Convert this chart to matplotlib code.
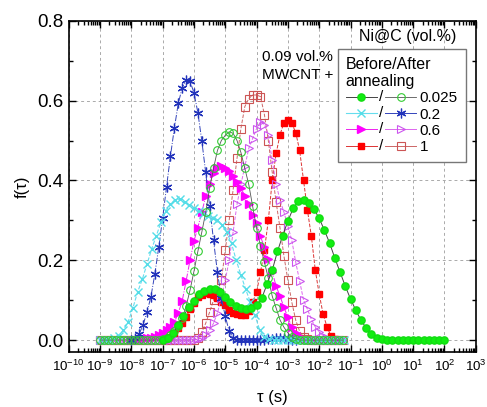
import matplotlib
matplotlib.use('Agg')
import numpy as np
import matplotlib.pyplot as plt
from matplotlib.lines import Line2D
from matplotlib.text import Text
from matplotlib.legend_handler import HandlerBase
from matplotlib.ticker import LogLocator, MultipleLocator, FormatStrFormatter, NullFormatter

plt.rcParams['font.family'] = ['Liberation Sans', 'DejaVu Sans']
plt.rcParams['mathtext.fontset'] = 'custom'
plt.rcParams['mathtext.rm'] = 'Liberation Sans'
plt.rcParams['mathtext.it'] = 'Liberation Sans:italic'

# ---------------- data (log10 tau grid start, step; f(tau) values) ----------------
labels = ['0.025', '0.2', '0.6', '1']

# 0.025 before (filled circles)
g_before_start, g_before_step = -7.0, 1 / 6
g_before = [0.0, 0.005, 0.017, 0.038, 0.06, 0.083, 0.098, 0.115, 0.123, 0.128, 0.127, 0.12,
            0.108, 0.095, 0.085, 0.08, 0.078, 0.08, 0.088, 0.105, 0.14, 0.175, 0.222, 0.262,
            0.298, 0.33, 0.348, 0.352, 0.343, 0.328, 0.305, 0.275, 0.243, 0.205, 0.17, 0.135,
            0.103, 0.075, 0.05, 0.03, 0.016, 0.006, 0.002,
            0.0, 0.0, 0.0, 0.0, 0.0, 0.0, 0.0, 0.0, 0.0, 0.0, 0.0, 0.0]
# 0.025 after (open circles)
g_after_start, g_after_step = -9.0, 1 / 8
g_after = [0.0, 0.0, 0.0, 0.0, 0.0, 0.0, 0.0, 0.0, 0.0, 0.0, 0.0, 0.0, 0.0, 0.0, 0.0, 0.0,
           0.002, 0.006, 0.012, 0.022, 0.036, 0.055, 0.085, 0.125, 0.172, 0.222, 0.27, 0.32,
           0.38, 0.43, 0.475, 0.50, 0.513, 0.522, 0.518, 0.50, 0.47, 0.43, 0.39, 0.335, 0.28,
           0.235, 0.195, 0.155, 0.11, 0.08, 0.05, 0.032, 0.018, 0.008, 0.003,
           0.0, 0.0, 0.0, 0.0, 0.0, 0.0, 0.0, 0.0, 0.0, 0.0, 0.0, 0.0]
# 0.2 before (x)
c_before_start, c_before_step = -9.0, 0.15
c_before = [0.0, 0.0, 0.001, 0.004, 0.011, 0.025, 0.046, 0.08, 0.12, 0.152, 0.19, 0.228, 0.262,
            0.295, 0.323, 0.34, 0.352, 0.353, 0.347, 0.338, 0.33, 0.323, 0.316, 0.31, 0.305,
            0.3, 0.288, 0.27, 0.242, 0.2, 0.163, 0.128, 0.095, 0.062, 0.025, 0.008, 0.002,
            0.0, 0.0, 0.0, 0.0, 0.0, 0.0, 0.0, 0.0, 0.0, 0.0, 0.0, 0.0, 0.0, 0.0, 0.0, 0.0]
# 0.2 after (asterisk)
b_after_start, b_after_step = -8.0, 1 / 8
b_after = [0.0, 0.004, 0.015, 0.038, 0.07, 0.108, 0.165, 0.232, 0.305, 0.384, 0.461, 0.531,
           0.593, 0.632, 0.652, 0.648, 0.62, 0.57, 0.50, 0.42, 0.336, 0.25, 0.17, 0.105, 0.06,
           0.022, 0.006, 0.001,
           0.0, 0.0, 0.0, 0.0, 0.0, 0.0, 0.001, 0.002, 0.003, 0.004, 0.005, 0.004, 0.002, 0.001, 0.0]
# 0.6 before (filled triangles)
m_before_start, m_before_step = -8.0, 1 / 8
m_before = [0.0, 0.001, 0.002, 0.003, 0.004, 0.006, 0.008, 0.012, 0.018, 0.025, 0.034, 0.045,
            0.068, 0.098, 0.148, 0.2, 0.248, 0.282, 0.32, 0.36, 0.392, 0.418, 0.432, 0.436,
            0.432, 0.424, 0.41, 0.395, 0.38, 0.362, 0.34, 0.313, 0.294, 0.26, 0.232, 0.203,
            0.17, 0.135, 0.11, 0.082, 0.057, 0.033, 0.018, 0.008, 0.003, 0.001,
            0.0, 0.0, 0.0, 0.0, 0.0, 0.0, 0.0, 0.0, 0.0]
# 0.6 after (open triangles)
m_after_start, m_after_step = -9.0, 1 / 8
m_after = [0.0, 0.0, 0.0, 0.0, 0.0, 0.0, 0.0, 0.0, 0.0, 0.0, 0.0, 0.0, 0.0, 0.0, 0.0, 0.0,
           0.0, 0.0, 0.0, 0.0, 0.0, 0.0, 0.0, 0.0, 0.0,
           0.002, 0.006, 0.012, 0.025, 0.042, 0.068, 0.105, 0.15, 0.2, 0.27, 0.34, 0.39,
           0.435, 0.48, 0.505, 0.53, 0.547, 0.54, 0.515, 0.45, 0.39, 0.35, 0.32, 0.285,
           0.25, 0.195, 0.148, 0.10, 0.077, 0.052, 0.033, 0.021, 0.011, 0.004, 0.001,
           0.0, 0.0, 0.0]
# 1 before (filled squares)
r_before_start, r_before_step = -7.0, 1 / 8
r_before = [0.0, 0.002, 0.008, 0.018, 0.03, 0.043, 0.058, 0.077, 0.092, 0.108, 0.114, 0.117,
            0.116, 0.112, 0.105, 0.096, 0.087, 0.076, 0.069, 0.065, 0.063, 0.064, 0.072, 0.095,
            0.12, 0.17, 0.225, 0.30, 0.40, 0.468, 0.515, 0.545, 0.552, 0.543, 0.52, 0.475,
            0.40, 0.325, 0.26, 0.175, 0.115, 0.065, 0.033, 0.01, 0.002]
# 1 after (open squares)
r_after_start, r_after_step = -9.0, 1 / 8
r_after = [0.0, 0.0, 0.0, 0.0, 0.0, 0.0, 0.0, 0.0, 0.0, 0.0, 0.0, 0.0, 0.0, 0.0, 0.0, 0.0,
           0.0, 0.0, 0.0, 0.0, 0.0, 0.0, 0.0, 0.0, 0.0,
           0.005, 0.02, 0.042, 0.07, 0.1, 0.12, 0.15, 0.225, 0.30, 0.376, 0.455, 0.53, 0.585,
           0.605, 0.614, 0.614, 0.61, 0.565, 0.50, 0.42, 0.345, 0.28, 0.21, 0.15, 0.095,
           0.05, 0.022, 0.008, 0.002,
           0.0, 0.0, 0.0, 0.0, 0.0, 0.0, 0.0, 0.0, 0.0]


def tau(start, step, vals):
    return 10.0 ** (start + step * np.arange(len(vals)))


fig = plt.figure(figsize=(4.87, 4.07), dpi=100)
ax = fig.add_axes([0.141, 0.135, 0.836, 0.814])

styles = {
    'g_b': dict(color='#444444', lw=0.7, ls='-', marker='o', ms=5.2, mfc='#11ee11', mec='#11dd11'),
    'g_a': dict(color='#555555', lw=0.6, ls='-', marker='o', ms=5.5, mfc='none', mec='#33cc33', mew=0.8),
    'c_b': dict(color='#66ddee', lw=0.8, ls='--', marker='x', ms=6, mec='#55dde8', mew=1.0),
    'b_a': dict(color='#3344bb', lw=0.7, ls='-.', marker=(6, 2, 0), ms=7, mec='#2233bb', mew=0.9),
    'm_b': dict(color='#ee22ee', lw=0.7, ls='-.', marker='>', ms=5.5, mfc='#ff00ff', mec='#ff00ff'),
    'm_a': dict(color='#dd66ee', lw=0.7, ls='--', marker='>', ms=6, mfc='none', mec='#cc55ee', mew=0.8),
    'r_b': dict(color='#dd3333', lw=0.7, ls='--', marker='s', ms=5, mfc='#ff0000', mec='#ff0000'),
    'r_a': dict(color='#cc6666', lw=0.7, ls='--', marker='s', ms=5.5, mfc='none', mec='#cc5555', mew=0.8),
}

h = {}
h['r_a'], = ax.plot(tau(r_after_start, r_after_step, r_after), r_after, **styles['r_a'])
h['r_b'], = ax.plot(tau(r_before_start, r_before_step, r_before), r_before, **styles['r_b'])
h['m_a'], = ax.plot(tau(m_after_start, m_after_step, m_after), m_after, **styles['m_a'])
h['m_b'], = ax.plot(tau(m_before_start, m_before_step, m_before), m_before, **styles['m_b'])
h['b_a'], = ax.plot(tau(b_after_start, b_after_step, b_after), b_after, **styles['b_a'])
h['c_b'], = ax.plot(tau(c_before_start, c_before_step, c_before), c_before, **styles['c_b'])
h['g_a'], = ax.plot(tau(g_after_start, g_after_step, g_after), g_after, **styles['g_a'])
h['g_b'], = ax.plot(tau(g_before_start, g_before_step, g_before), g_before, **styles['g_b'])

ax.set_xscale('log')
ax.set_xlim(1e-10, 1e3)
ax.set_ylim(-0.03, 0.8)
ax.xaxis.set_major_locator(LogLocator(base=10, numticks=30))
ax.xaxis.set_minor_locator(LogLocator(base=10, subs=np.arange(2, 10), numticks=30))
ax.xaxis.set_minor_formatter(NullFormatter())
ax.yaxis.set_major_locator(MultipleLocator(0.2))
ax.yaxis.set_minor_locator(MultipleLocator(0.1))
ax.yaxis.set_major_formatter(FormatStrFormatter('%.1f'))
ax.tick_params(which='both', direction='in', top=True, right=True, width=1.0)
ax.tick_params(which='major', length=5)
ax.tick_params(which='minor', length=3)
ax.tick_params(axis='y', labelsize=13.5, pad=4)
ax.tick_params(axis='x', labelsize=9.6, pad=5)
for s in ax.spines.values():
    s.set_linewidth(1.2)
ax.grid(True, which='major', ls=(0, (3, 3)), color='#aaaaaa', lw=0.7)

ax.set_xlabel('τ (s)', fontsize=12)
ax.set_ylabel('f(τ)', fontsize=12)
ax.xaxis.set_label_coords(0.5, -0.115)
ax.yaxis.set_label_coords(-0.095, 0.5)


class PairHandler(HandlerBase):
    def create_artists(self, legend, orig_handle, xdescent, ydescent, width, height, fontsize, trans):
        before, after = orig_handle
        y = height / 2.0 - ydescent
        x0 = -xdescent
        gap = fontsize * 0.55
        seg = (width - gap) / 2.0
        arts = []
        for i, hh in enumerate((before, after)):
            xs = x0 + i * (seg + gap)
            ln = Line2D([xs, xs + seg], [y, y])
            ln.update_from(hh)
            ln.set_marker('None')
            ln.set_linestyle('-')
            mk = Line2D([xs + seg / 2], [y])
            mk.update_from(hh)
            mk.set_linestyle('None')
            ln.set_transform(trans)
            mk.set_transform(trans)
            arts += [ln, mk]
        t = Text(x0 + seg + gap / 2, y, '/', ha='center', va='center', fontsize=fontsize)
        t.set_transform(trans)
        arts.append(t)
        return arts


pairs = [(h['g_b'], h['g_a']), (h['c_b'], h['b_a']), (h['m_b'], h['m_a']), (h['r_b'], h['r_a'])]
leg = ax.legend(pairs, labels, handler_map={tuple: PairHandler()},
                loc='upper right', bbox_to_anchor=(0.975, 0.915), borderaxespad=0,
                title='Before/After\nannealing', alignment='left', fontsize=11,
                title_fontsize=11.5, handlelength=4.6, handletextpad=0.25, labelspacing=0.15,
                borderpad=0.5, fancybox=False, framealpha=1, edgecolor='#777777')
leg.get_frame().set_linewidth(1.0)

ax.text(0.833, 0.951, 'Ni@C (vol.%)', transform=ax.transAxes, ha='center', va='center', fontsize=11.5)
ax.text(0.475, 0.912, '0.09 vol.%\nMWCNT +', transform=ax.transAxes, ha='left', va='top',
        fontsize=11, linespacing=1.35)

fig.savefig('out.png', dpi=100)
